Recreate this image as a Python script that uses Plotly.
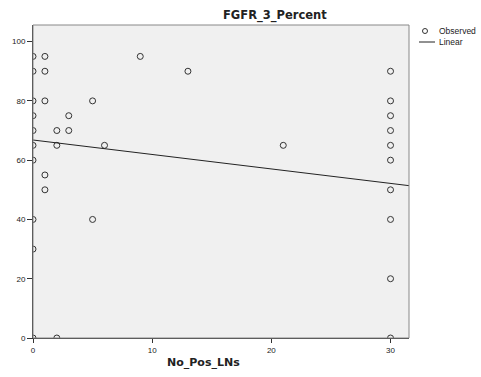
import plotly.graph_objects as go

# Observed data (No_Pos_LNs, FGFR_3_Percent)
obs_x = [0, 0, 0, 0, 0, 0, 0, 0, 0, 0,
         1, 1, 1, 1, 1,
         2, 2, 2,
         3, 3,
         5, 5,
         6, 9, 13, 21,
         30, 30, 30, 30, 30, 30, 30, 30, 30, 30]
obs_y = [95, 90, 80, 75, 70, 65, 60, 40, 30, 0,
         95, 90, 80, 55, 50,
         70, 65, 0,
         75, 70,
         80, 40,
         65, 95, 90, 65,
         90, 80, 75, 70, 65, 60, 50, 40, 20, 0]

# Linear fit line
fit_x = [0, 31.55]
fit_y = [66.8, 51.4]

x_ticks = [0, 10, 20, 30]
y_ticks = [0, 20, 40, 60, 80, 100]

font = "Liberation Sans, Arial, sans-serif"
tfont = "DejaVu Sans, sans-serif"

L, R, T, B = 33, 72, 25, 39
W, H = 481, 377
pw, ph = W - L - R, H - T - B

def px_x(p):
    return (p - L) / pw

def px_y(p):
    return (H - B - p) / ph

fig = go.Figure()
fig.add_trace(go.Scatter(
    x=obs_x, y=obs_y, mode="markers", name="Observed",
    marker=dict(symbol="circle-open", size=6, color="#333333", line=dict(width=1, color="#333333")),
    cliponaxis=True,
))
fig.add_trace(go.Scatter(
    x=fit_x, y=fit_y, mode="lines", name="Linear",
    line=dict(color="#222222", width=1),
))

fig.update_layout(
    width=W, height=H,
    margin=dict(l=L, r=R, t=T, b=B, autoexpand=False),
    paper_bgcolor="white",
    plot_bgcolor="#f0f0f0",
    showlegend=False,
    font=dict(family=font, size=8, color="#222222"),
)
fig.update_xaxes(
    range=[0, 31.55], tickvals=x_ticks, ticks="outside", ticklen=4, tickcolor="#333333",
    showgrid=False, zeroline=False, showline=True, linecolor="#333333", linewidth=1,
    tickfont=dict(family=font, size=8, color="#222222"), automargin=False,
)
fig.update_yaxes(
    range=[0, 105.6], tickvals=y_ticks, ticks="outside", ticklen=5, tickcolor="#333333",
    showgrid=False, zeroline=False, showline=True, linecolor="#333333", linewidth=1,
    tickfont=dict(family=font, size=8, color="#222222"), automargin=False,
)
fig.add_shape(type="rect", xref="paper", yref="paper", x0=0, y0=0, x1=1, y1=1,
              line=dict(color="#888888", width=1), layer="above")

# titles
fig.add_annotation(text="<b>FGFR_3_Percent</b>", xref="paper", yref="paper",
                   x=px_x(275), y=px_y(15), xanchor="center", yanchor="middle",
                   showarrow=False, font=dict(family=tfont, size=11.5, color="#222222"))
fig.add_annotation(text="<b>No_Pos_LNs</b>", xref="paper", yref="paper",
                   x=px_x(203), y=px_y(362), xanchor="center", yanchor="middle",
                   showarrow=False, font=dict(family=tfont, size=11, color="#222222"))

# legend
fig.add_shape(type="circle", xref="paper", yref="paper",
              x0=px_x(422.5), x1=px_x(427.5), y0=px_y(28.5), y1=px_y(33.5),
              line=dict(color="#333333", width=1))
fig.add_shape(type="line", xref="paper", yref="paper",
              x0=px_x(419), x1=px_x(435), y0=px_y(42), y1=px_y(42),
              line=dict(color="#222222", width=1))
fig.add_annotation(text="Observed", xref="paper", yref="paper",
                   x=px_x(437), y=px_y(31), xanchor="left", yanchor="middle",
                   showarrow=False, font=dict(family=font, size=8.5, color="#222222"))
fig.add_annotation(text="Linear", xref="paper", yref="paper",
                   x=px_x(437), y=px_y(42), xanchor="left", yanchor="middle",
                   showarrow=False, font=dict(family=font, size=8.5, color="#222222"))

fig.write_html("out.html", config={"displayModeBar": False},
               post_script="document.body.style.margin='0';document.body.style.padding='0';")
